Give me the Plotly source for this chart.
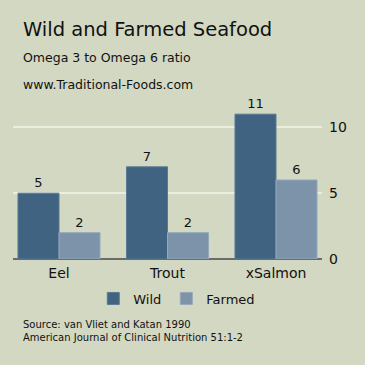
import plotly.graph_objects as go

categories = ["Eel", "Trout", "xSalmon"]
wild = [5, 7, 11]
farmed = [2, 2, 6]
series_names = ["Wild", "Farmed"]
y_ticks = [0, 5, 10]

BG = "#d3d8c2"
FONT = "DejaVu Sans"

fig = go.Figure()
fig.add_trace(go.Bar(
    x=categories, y=wild, name=series_names[0],
    marker=dict(color="#3f6380", line=dict(color="#5a7a94", width=1)),
    text=wild, textposition="outside", cliponaxis=False,
    textfont=dict(size=13, color="#111111", family=FONT),
))
fig.add_trace(go.Bar(
    x=categories, y=farmed, name=series_names[1],
    marker=dict(color="#7d93aa", line=dict(color="#95a8ba", width=1)),
    text=farmed, textposition="outside", cliponaxis=False,
    textfont=dict(size=13, color="#111111", family=FONT),
))

L, R, T, B = 13, 43, 101, 106

fig.update_layout(
    width=365, height=365,
    paper_bgcolor=BG, plot_bgcolor=BG,
    margin=dict(l=L, r=R, t=T, b=B),
    barmode="group", bargap=0.244, bargroupgap=0,
    font=dict(family=FONT, color="#111111"),
    showlegend=True,
    legend=dict(orientation="h", x=0.53, xanchor="center", y=-0.25, yanchor="middle",
                font=dict(size=13, family=FONT), bgcolor="rgba(0,0,0,0)",
                itemwidth=30, traceorder="normal"),
    xaxis=dict(range=[-0.424, 2.424], showgrid=False, zeroline=False, showline=False,
               ticks="", ticklabelstandoff=4, tickfont=dict(size=14, family=FONT)),
    yaxis=dict(range=[0, 12], side="right", tickvals=y_ticks, showgrid=True,
               gridcolor="#eaeee0", gridwidth=2, zeroline=True, zerolinecolor="#6b6b6b",
               zerolinewidth=2, showline=False, ticks="", ticklabelstandoff=6,
               tickfont=dict(size=14, family=FONT)),
)

def px_x(px):
    return (px - L) / (365 - L - R)

def px_y(py):
    return (365 - B - py) / (365 - T - B)

fig.add_annotation(text="Wild and Farmed Seafood", x=px_x(21), y=px_y(29), xref="paper", yref="paper",
                   showarrow=False, font=dict(size=19.5, family=FONT), xanchor="left", yanchor="middle")
fig.add_annotation(text="Omega 3 to Omega 6 ratio", x=px_x(21), y=px_y(57), xref="paper", yref="paper",
                   showarrow=False, font=dict(size=12.5, family=FONT), xanchor="left", yanchor="middle")
fig.add_annotation(text="www.Traditional-Foods.com", x=px_x(21), y=px_y(84), xref="paper", yref="paper",
                   showarrow=False, font=dict(size=12.5, family=FONT), xanchor="left", yanchor="middle")
fig.add_annotation(text="Source: van Vliet and Katan 1990<br>American Journal of Clinical Nutrition 51:1-2",
                   x=px_x(21), y=px_y(331), xref="paper", yref="paper", align="left",
                   showarrow=False, font=dict(size=10, family=FONT), xanchor="left", yanchor="middle")

fig.write_html("out.html", config={"displayModeBar": False},
               post_script="document.body.style.margin='0';document.body.style.overflow='hidden';")
